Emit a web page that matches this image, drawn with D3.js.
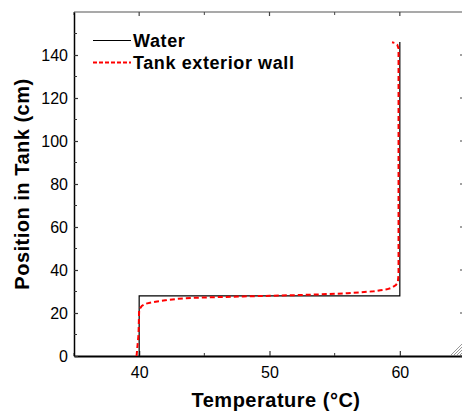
<!DOCTYPE html>
<html><head><meta charset="utf-8">
<script src="https://cdn.jsdelivr.net/npm/d3@7"></script>
<style>
html,body{margin:0;padding:0;background:#fff;overflow:hidden;}
svg{display:block;font-family:Arial,"Liberation Sans",sans-serif;}
</style></head>
<body>
<svg id="c" width="462" height="413"></svg>
<script>
const xTicks = [40, 50, 60];
const xMinor = [35, 45, 55, 65];
const yTicks = [0, 20, 40, 60, 80, 100, 120, 140];
const yMinor = [10, 30, 50, 70, 90, 110, 130, 150];
const waterT = [40, 40, 60, 60];
const waterPos = [0, 28, 28, 146];
const wallT = [39.8, 39.95, 40.0, 40.2, 40.5, 41, 41.5, 42, 43, 44, 46, 48, 50, 52, 54, 56, 57, 58, 58.5, 59, 59.4, 59.7, 59.85, 59.9, 59.9, 59.9, 59.8, 59.6, 59.4];
const wallPos = [0, 10, 21.5, 23.3, 24.3, 25, 25.5, 25.9, 26.6, 27, 27.4, 27.7, 28, 28.3, 28.7, 29.2, 29.6, 30.1, 30.6, 31, 31.8, 33, 34.5, 38, 100, 143, 144.8, 145.6, 145.9];
const seriesNames = ["Water", "Tank exterior wall"];

const svg = d3.select("#c");
const L = 74, R = 465, T = 12, B = 356;
const x = d3.scaleLinear().domain([35, 65]).range([L, R]);
const y = d3.scaleLinear().domain([0, 160]).range([B, T]);
const FONT = "Arial,'Liberation Sans',sans-serif";

// frame
const ax = svg.append("g");
ax.append("line").attr("x1", L).attr("x2", R).attr("y1", T).attr("y2", T).attr("stroke", "#555").attr("stroke-width", 1.2);
ax.append("line").attr("x1", R).attr("x2", R).attr("y1", T).attr("y2", B).attr("stroke", "#555").attr("stroke-width", 1.2);

// bottom axis
const bottom = svg.append("g").attr("transform", `translate(0,${B})`)
  .call(d3.axisBottom(x).tickValues(xTicks).tickSizeInner(-5).tickSizeOuter(0).tickPadding(11).tickFormat(d3.format("d")));
bottom.select(".domain").attr("stroke", "#000").attr("stroke-width", 2);
bottom.selectAll(".tick line").attr("stroke", "#333").attr("stroke-width", 1.2);
bottom.selectAll(".tick text").attr("font-size", 16).attr("fill", "#000").attr("font-family", FONT);
svg.append("g").selectAll("line").data(xMinor).join("line")
  .attr("x1", d => x(d)).attr("x2", d => x(d)).attr("y1", B).attr("y2", B - 3).attr("stroke", "#333");

// top ticks
svg.append("g").selectAll("line").data(xTicks).join("line")
  .attr("x1", d => x(d)).attr("x2", d => x(d)).attr("y1", T).attr("y2", T + 4).attr("stroke", "#444").attr("stroke-width", 1.2);
svg.append("g").selectAll("line").data(xMinor).join("line")
  .attr("x1", d => x(d)).attr("x2", d => x(d)).attr("y1", T).attr("y2", T + 3).attr("stroke", "#444");

// left axis
const left = svg.append("g").attr("transform", `translate(${L},0)`)
  .call(d3.axisLeft(y).tickValues(yTicks).tickSizeInner(-4).tickSizeOuter(0).tickPadding(6).tickFormat(d3.format("d")));
left.select(".domain").attr("stroke", "#000").attr("stroke-width", 1.5);
left.selectAll(".tick line").attr("stroke", "#333").attr("stroke-width", 1.2);
left.selectAll(".tick text").attr("font-size", 16).attr("fill", "#000").attr("font-family", FONT);
svg.append("g").selectAll("line").data(yMinor).join("line")
  .attr("x1", L).attr("x2", L + 3).attr("y1", d => y(d)).attr("y2", d => y(d)).attr("stroke", "#333");

// right ticks
svg.append("g").selectAll("line").data(yTicks).join("line")
  .attr("x1", R).attr("x2", R - 5).attr("y1", d => y(d)).attr("y2", d => y(d)).attr("stroke", "#444").attr("stroke-width", 1.2);

// series
const line = d3.line().x(d => x(d[0])).y(d => y(d[1]));
svg.append("path").datum(waterT.map((t, i) => [t, waterPos[i]]))
  .attr("d", line).attr("fill", "none").attr("stroke", "#000").attr("stroke-width", 1.2);
svg.append("path").datum(wallT.map((t, i) => [t, wallPos[i]]))
  .attr("d", line).attr("fill", "none").attr("stroke", "#ff0000").attr("stroke-width", 2).attr("stroke-dasharray", "5,3");

// legend
const lg = svg.append("g");
lg.append("line").attr("x1", 93).attr("x2", 131).attr("y1", 40.5).attr("y2", 40.5).attr("stroke", "#000").attr("stroke-width", 1.2);
lg.append("line").attr("x1", 93).attr("x2", 131).attr("y1", 62.5).attr("y2", 62.5).attr("stroke", "#ff0000").attr("stroke-width", 2).attr("stroke-dasharray", "4,2");
lg.append("text").attr("x", 133).attr("y", 47).attr("font-size", 18).attr("letter-spacing", 0.6).attr("font-weight", "bold").text(seriesNames[0]);
lg.append("text").attr("x", 133).attr("y", 69).attr("font-size", 18).attr("letter-spacing", 0.6).attr("font-weight", "bold").text(seriesNames[1]);

// axis titles
svg.append("text").attr("x", 276).attr("y", 407).attr("text-anchor", "middle")
  .attr("font-size", 20).attr("letter-spacing", 0.5).attr("font-weight", "bold").text("Temperature (°C)");
svg.append("text").attr("transform", `translate(29,184) rotate(-90)`).attr("text-anchor", "middle")
  .attr("font-size", 20).attr("letter-spacing", 0.5).attr("font-weight", "bold").text("Position in Tank (cm)");

// resize grip
const grip = svg.append("g").attr("stroke", "#999").attr("stroke-width", 1);
[0, 3, 6, 9].forEach(o => {
  grip.append("line").attr("x1", 451 + o).attr("y1", 355).attr("x2", 462).attr("y2", 344 + o);
});
</script>
</body></html>
